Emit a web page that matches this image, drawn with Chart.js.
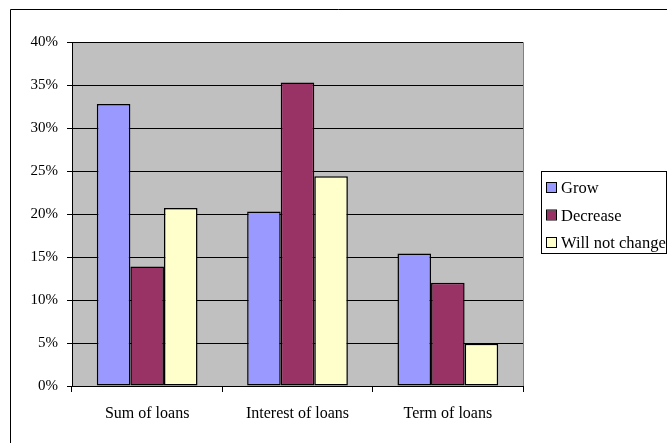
<!DOCTYPE html>
<html lang="en">
<head>
    <meta charset="UTF-8">
    <title>Loans chart</title>
    <script src="https://cdn.jsdelivr.net/npm/chart.js"></script>
    <style>
        body { margin: 0; background: #fff; }
        canvas { display: block; }
    </style>
</head>
<body>
    <canvas id="chart" width="667" height="443"></canvas>
    <script>
        const categories = ['Sum of loans', 'Interest of loans', 'Term of loans'];
        const seriesNames = ['Grow', 'Decrease', 'Will not change'];
        const grow = [32.8, 20.3, 15.4];
        const decrease = [13.9, 35.3, 12.0];
        const willNotChange = [20.7, 24.4, 4.9];
        const seriesColors = ['#9999FF', '#993366', '#FFFFCC'];
        const yTicks = [0, 5, 10, 15, 20, 25, 30, 35, 40];

        const serif = '"Liberation Serif", "Times New Roman", serif';

        // gray plot area + outer frame
        const backdrop = {
            id: 'backdrop',
            beforeDraw(chart) {
                const ctx = chart.ctx;
                const a = chart.chartArea;
                ctx.save();
                ctx.fillStyle = '#C0C0C0';
                ctx.fillRect(a.left, a.top, a.right - a.left, a.bottom - a.top);
                ctx.strokeStyle = '#808080';
                ctx.lineWidth = 1;
                ctx.beginPath();
                ctx.moveTo(a.left, a.top + 0.5);
                ctx.lineTo(a.right + 0.5, a.top + 0.5);
                ctx.lineTo(a.right + 0.5, a.bottom);
                ctx.stroke();
                ctx.strokeStyle = '#000';
                ctx.beginPath();
                ctx.moveTo(10.5, 443);
                ctx.lineTo(10.5, 9.5);
                ctx.lineTo(667, 9.5);
                ctx.stroke();
                ctx.restore();
            }
        };

        // excel-like legend box on the right
        const boxLegend = {
            id: 'boxLegend',
            afterDraw(chart) {
                const ctx = chart.ctx;
                ctx.save();
                ctx.strokeStyle = '#000';
                ctx.lineWidth = 1;
                ctx.fillStyle = '#fff';
                ctx.fillRect(541.5, 171.5, 125, 82);
                ctx.strokeRect(541.5, 171.5, 125, 82);
                ctx.font = '16.5px ' + serif;
                ctx.textBaseline = 'middle';
                chart.data.datasets.forEach((ds, i) => {
                    const y = 188 + i * 27.5;
                    ctx.fillStyle = ds.backgroundColor;
                    ctx.fillRect(547, y - 5, 9, 9);
                    ctx.strokeRect(546.5, y - 5.5, 10, 10);
                    ctx.fillStyle = '#000';
                    ctx.fillText(ds.label, 561, y + 1);
                });
                ctx.restore();
            }
        };

        const ctx = document.getElementById('chart').getContext('2d');
        new Chart(ctx, {
            type: 'bar',
            data: {
                labels: categories,
                datasets: [grow, decrease, willNotChange].map((vals, i) => ({
                    label: seriesNames[i],
                    data: vals,
                    backgroundColor: seriesColors[i],
                    borderColor: '#000',
                    borderWidth: 1.5,
                    borderSkipped: false,
                    categoryPercentage: 0.67,
                    barPercentage: 1
                }))
            },
            options: {
                responsive: false,
                animation: false,
                layout: { padding: { left: 0, right: 144, top: 42, bottom: 0 } },
                plugins: {
                    legend: { display: false },
                    tooltip: { enabled: false }
                },
                scales: {
                    x: {
                        grid: { drawOnChartArea: false, color: '#000', tickLength: 6, offset: true },
                        border: { color: '#000', width: 1 },
                        ticks: { color: '#000', font: { family: serif, size: 16 }, padding: 12 },
                        afterFit(scale) { scale.height = 57; }
                    },
                    y: {
                        min: 0,
                        max: 40,
                        afterBuildTicks(scale) { scale.ticks = yTicks.map(v => ({ value: v })); },
                        grid: { color: '#000', tickLength: 5 },
                        border: { color: '#000', width: 1 },
                        ticks: {
                            color: '#000',
                            font: { family: serif, size: 15 },
                            padding: 9,
                            callback: v => v + '%'
                        },
                        afterFit(scale) { scale.width = 72; }
                    }
                }
            },
            plugins: [backdrop, boxLegend]
        });
    </script>
</body>
</html>
